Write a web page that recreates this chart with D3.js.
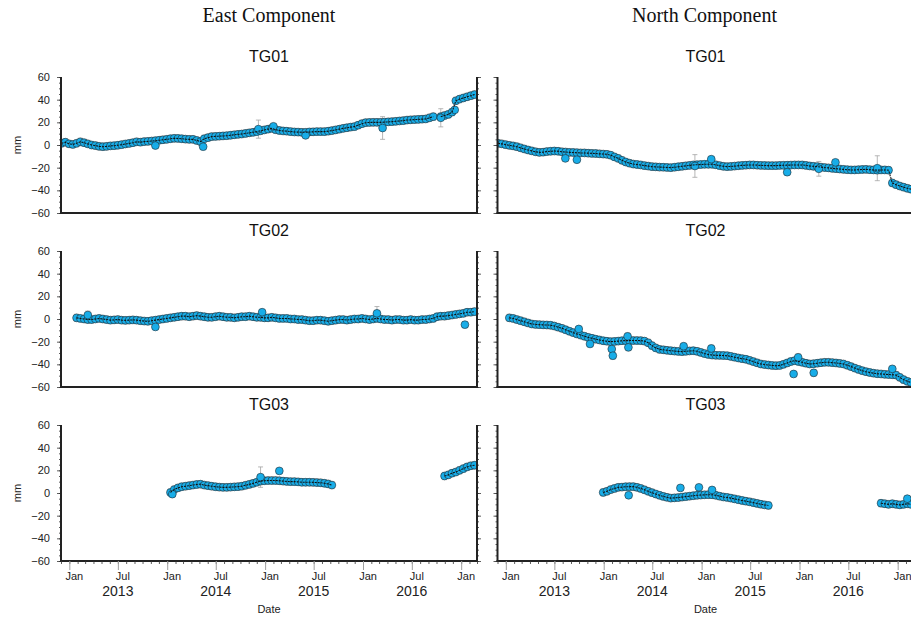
<!DOCTYPE html>
<html>
<head>
<meta charset="utf-8">
<script src="https://cdn.jsdelivr.net/npm/d3@7"></script>
<style>
body { margin: 0; background: #fff; }
svg { display: block; }
</style>
</head>
<body>
<script>
// GPS position time series, 14-day samples (mm); null = no data
var stepDays = 14;

var eastTG01 = [["2012-12-03", [
  1.5, 2.5, 1.0, 0.5, 1.5, 2.8, 2.0, 1.0, 0.0, -0.5,
  -1.2, -1.5, -1.2, -0.8, -0.6, -0.2, 0.3, 0.9, 1.4, 2.0,
  2.8, 2.5, 3.0, 3.2, 3.5, 3.8, 4.2, 4.6, 5.0, 5.5,
  5.9, 5.8, 5.5, 5.2, 5.0, 5.0, 4.0, 3.0, 5.5, 6.5,
  7.4, 7.6, 7.8, 8.0, 8.2, 8.6, 9.0, 9.4, 9.7, 10.2,
  10.7, 11.2, 11.8, 12.5, 13.3, 14.0, 14.7, 13.5, 12.8, 12.4,
  12.2, 11.8, 11.5, 11.4, 11.2, 11.2, 11.5, 11.6, 11.8, 11.8,
  11.8, 12.2, 12.7, 13.3, 14.0, 14.7, 15.2, 15.8, 16.2, 17.5,
  18.8, 19.7, 19.9, 20.0, 20.0, 20.0, 20.2, 20.4, 20.6, 20.9,
  21.2, 21.5, 22.0, 22.2, 22.4, 22.6, 22.8, 23.0, 24.0, 25.0,
  null, 25.0, 26.0, 27.0, 29.0, 39.0, 40.5, 41.5, 42.5, 43.5,
  44.5]]];

var northTG01 = [["2012-12-03", [
  1.5, 1.0, 0.3, -0.3, -0.8, -1.5, -2.5, -3.5, -4.4, -5.2,
  -6.0, -6.5, -6.3, -5.8, -5.5, -5.3, -5.5, -6.0, -6.2, -6.5,
  -6.6, -6.8, -7.0, -7.0, -7.2, -7.4, -7.5, -7.8, -8.0, -8.2,
  -9.0, -10.5, -11.8, -13.5, -15.0, -16.0, -16.8, -17.2, -17.6, -18.2,
  -18.6, -19.1, -19.3, -19.5, -19.6, -19.8, -20.0, -19.6, -19.2, -18.8,
  -18.4, -18.0, -17.6, -17.4, -17.2, -17.0, -17.0, -17.0, -17.5, -18.2,
  -18.8, -19.1, -18.9, -18.6, -18.3, -18.0, -17.8, -17.6, -17.6, -17.8,
  -18.0, -18.1, -18.2, -18.2, -18.2, -18.0, -17.9, -17.8, -17.7, -17.6,
  -17.6, -17.6, -18.0, -18.5, -18.8, -19.1, -19.5, -19.9, -20.2, -20.6,
  -20.9, -21.2, -21.5, -21.8, -22.0, -22.0, -21.8, -21.6, -21.5, -21.8,
  -22.0, -22.2, -22.0, -22.0, -22.2, -33.5, -35.0, -36.2, -37.2, -38.2,
  -39.0]]];

var eastTG02 = [["2013-01-28", [
  1.0, 0.5, 0.0, -0.5, -0.5, 0.0,
  0.5, 0.0, -0.5, -1.0, -0.8, -0.5, -1.0, -1.2, -1.0, -0.8,
  -1.0, -1.5, -1.8, -2.0, -1.5, -1.0, -0.5, 0.0, 0.5, 1.0,
  1.5, 2.0, 2.5, 2.5, 2.0, 2.5, 3.0, 2.5, 2.0, 1.5,
  1.5, 2.0, 2.5, 2.0, 1.5, 1.5, 1.0, 1.5, 2.0, 2.0,
  2.5, 2.0, 1.5, 1.5, 1.0, 1.0, 1.5, 1.0, 0.5, 0.5,
  0.5, 0.0, 0.0, -0.5, -0.5, -1.0, -1.5, -1.5, -1.0, -1.0,
  -1.5, -2.0, -1.5, -1.0, -0.5, -0.5, -1.0, -0.5, 0.0, 0.0,
  0.5, 0.0, -0.5, 0.0, 0.5, 0.0, -0.5, -0.5, -1.0, -0.5,
  -0.5, -1.0, -1.0, -0.5, -1.0, -1.0, -0.5, -0.5, 0.0, 0.5,
  2.0, 2.5, 2.5, 3.0, 3.5, 4.0, 4.5, 5.0, 6.0, 6.0,
  6.5]]];

var northTG02 = [["2013-01-14", [
  1.0, 0.5, -0.5, -1.5, -2.5, -3.5, -4.4,
  -4.8, -5.0, -5.2, -5.3, -5.5, -6.2, -7.2, -8.2, -9.5, -10.8,
  -12.0, -13.2, -14.2, -15.2, -16.2, -17.0, -17.8, -18.5, -19.2, -19.6,
  -20.0, -19.8, -19.5, -19.2, -19.1, -19.0, -19.0, -19.0, -19.1, -19.5,
  -21.0, -23.5, -25.5, -26.8, -27.2, -27.6, -28.0, -28.3, -28.6, -28.8,
  -28.5, -28.2, -28.0, -28.5, -29.5, -30.5, -31.3, -31.8, -32.0, -32.1,
  -32.2, -32.4, -33.0, -33.7, -34.4, -35.0, -35.5, -36.5, -37.6, -38.7,
  -39.7, -40.2, -40.6, -41.0, -41.2, -41.0, -40.0, -38.8, -37.5, -36.8,
  -37.5, -38.2, -39.0, -39.7, -39.5, -39.0, -38.6, -38.2, -38.2, -38.5,
  -38.8, -39.2, -39.7, -40.8, -42.0, -43.3, -44.5, -45.6, -46.5, -47.2,
  -47.8, -48.3, -48.5, -48.8, -49.0, -49.2, -49.5, -51.5, -53.5, -55.0,
  -56.0]]];

var eastTG03 = [
  ["2014-01-13", [
    0.5, 3.0, 4.5, 5.5, 6.0, 6.5, 7.0, 7.5, 7.8, 7.0,
    6.5, 6.0, 5.5, 5.2, 5.0, 5.0, 5.2, 5.4, 5.6, 6.0,
    6.8, 7.6, 8.5, 9.5, 10.5, 10.8, 11.0, 11.0, 11.0, 10.8,
    10.5, 10.2, 10.0, 10.0, 9.8, 9.5, 9.5, 9.5, 9.4, 9.2,
    9.0, 8.6, 8.0, 7.0]],
  ["2016-10-31", [15.0, 16.0, 17.5, 18.5, 20.0, 21.5, 23.0, 24.0, 24.5]]
];

var northTG03 = [
  ["2013-12-30", [
    0.5, 1.5, 3.0, 4.0, 5.0, 5.2, 5.5, 5.6, 5.6, 5.0,
    4.0, 2.8, 1.5, 0.3, -0.9, -2.0, -3.0, -3.8, -4.5, -4.3,
    -4.0, -3.6, -3.2, -2.8, -2.4, -2.0, -1.8, -1.6, -1.5, -1.6,
    -2.0, -2.8, -3.5, -3.9, -4.5, -5.2, -5.9, -6.6, -7.2, -7.8,
    -8.5, -9.2, -9.9, -10.5, -11.0]],
  ["2016-10-31", [-9.0, -9.5, -10.0, -9.5, -10.0, -10.5, -10.0, -9.5, -10.0]]
];

// typical 1-sigma (mm) per series
var sigmaEast = [3.2, 3.2, 3.2];
var sigmaNorth = [3.2, 3.2, 3.2];

// isolated points with their own error bars: [date, value, error]
var eastTG01Odd = [["2013-11-18", -0.5, 2], ["2014-05-15", -1.5, 2], ["2014-12-07", 14, 8],
  ["2015-02-01", 16.5, 2], ["2015-06-01", 8.5, 2], ["2016-03-14", 15, 10],
  ["2016-10-17", 24, 8], ["2016-12-08", 31, 2]];
var northTG01Odd = [["2013-08-11", -11.8, 2], ["2013-09-23", -13, 2], ["2014-12-07", -18.5, 10],
  ["2015-02-06", -12.5, 2], ["2015-11-16", -24, 2], ["2016-03-13", -21, 6.5],
  ["2016-05-14", -15.3, 2], ["2016-10-17", -20.5, 11]];
var eastTG02Odd = [["2013-03-11", 3.5, 3.5], ["2013-11-18", -7, 2], ["2014-12-21", 6, 2],
  ["2016-02-22", 5, 6], ["2017-01-15", -5, 2.5]];
var northTG02Odd = [["2013-09-30", -8.8, 2], ["2013-11-11", -22, 2], ["2014-01-31", -26.5, 2.5],
  ["2014-02-04", -32.4, 3], ["2014-03-31", -15.3, 3], ["2014-04-03", -25, 3],
  ["2014-10-26", -24, 2.5], ["2015-02-06", -26, 3], ["2015-12-10", -48.5, 2],
  ["2015-12-27", -33.8, 3], ["2016-02-23", -47.5, 3], ["2016-12-12", -44, 2.5]];
var eastTG03Odd = [["2014-01-20", -1, 2], ["2014-12-15", 14, 9], ["2015-02-23", 19.5, 2]];
var northTG03Odd = [["2014-04-04", -2, 2], ["2014-10-14", 4.5, 2], ["2014-12-22", 5, 2],
  ["2015-02-09", 2.7, 2], ["2017-02-06", -5, 2]];

var stations = ["TG01", "TG02", "TG03"];
var components = ["East Component", "North Component"];
var yTicks = [-60, -40, -20, 0, 20, 40, 60];
var yearLabels = [2013, 2014, 2015, 2016];
var timeStart = "2012-12-01", timeEnd = "2017-03-01";

var eastSeries = [eastTG01, eastTG02, eastTG03];
var northSeries = [northTG01, northTG02, northTG03];
var eastOdd = [eastTG01Odd, eastTG02Odd, eastTG03Odd];
var northOdd = [northTG01Odd, northTG02Odd, northTG03Odd];

var W = 911, H = 618;
var colX = [61, 497.5], panelW = 416;
var rowY = [77, 251, 425], panelH = 136;
var blue = "#18ade8";
var sans = "'Liberation Sans', Arial, Helvetica, sans-serif";
var parse = d3.timeParse("%Y-%m-%d");

var svg = d3.select("body").append("svg")
  .attr("width", W).attr("height", H)
  .style("font-family", sans);

function toPoints(series, sig) {
  var pts = [];
  series.forEach(function(seg) {
    var t0 = parse(seg[0]);
    seg[1].forEach(function(v, i) {
      pts.push({date: d3.timeDay.offset(t0, i * stepDays), v: v, e: sig});
    });
  });
  return pts;
}

// column titles
components.forEach(function(c, ci) {
  svg.append("text")
    .attr("x", colX[ci] + panelW / 2 + (ci == 0 ? 0 : -1))
    .attr("y", 22)
    .attr("text-anchor", "middle")
    .style("font-family", "'Liberation Serif', 'Times New Roman', serif")
    .style("font-size", "20px")
    .attr("fill", "#111")
    .text(c);
});

for (var ri = 0; ri < 3; ri++) {
  for (var ci = 0; ci < 2; ci++) {
    drawPanel(ri, ci);
  }
}

function drawPanel(ri, ci) {
  var left = colX[ci], top = rowY[ri];
  var x = d3.scaleTime().domain([parse(timeStart), parse(timeEnd)]).range([left, left + panelW]);
  var y = d3.scaleLinear().domain([-60, 60]).range([top + panelH, top]);

  var series = ci == 0 ? eastSeries[ri] : northSeries[ri];
  var sig = ci == 0 ? sigmaEast[ri] : sigmaNorth[ri];
  var odd = (ci == 0 ? eastOdd[ri] : northOdd[ri]).map(function(d) {
    return {date: parse(d[0]), v: d[1], e: d[2]};
  });
  var pts = toPoints(series, sig).filter(function(d) { return d.v !== null; });
  var all = pts.concat(odd);

  var clipId = "clip" + ri + ci;
  svg.append("clipPath").attr("id", clipId)
    .append("rect").attr("x", left).attr("y", top - 2).attr("width", panelW).attr("height", panelH + 2);

  var g = svg.append("g").attr("clip-path", "url(#" + clipId + ")");

  // error bars
  var eb = g.append("g").attr("stroke", "#a5a5a5").attr("stroke-width", 0.8).attr("fill", "none");
  eb.selectAll("path").data(all).enter().append("path")
    .attr("d", function(d) {
      var cx = x(d.date), y0 = y(d.v - d.e), y1 = y(d.v + d.e);
      return "M" + cx + "," + y0 + "V" + y1 + "M" + (cx - 2.5) + "," + y0 + "H" + (cx + 2.5) +
             "M" + (cx - 2.5) + "," + y1 + "H" + (cx + 2.5);
    });

  // points
  g.append("g").selectAll("circle").data(all).enter().append("circle")
    .attr("cx", function(d) { return x(d.date); })
    .attr("cy", function(d) { return y(d.v); })
    .attr("r", 3.9)
    .attr("fill", blue)
    .attr("stroke", "#202a30")
    .attr("stroke-width", 0.6);

  // connecting line per segment
  var line = d3.line()
    .defined(function(d) { return d.v !== null; })
    .x(function(d) { return x(d.date); })
    .y(function(d) { return y(d.v); });
  series.forEach(function(seg) {
    var segPts = toPoints([seg], sig);
    g.append("path").datum(segPts)
      .attr("d", line)
      .attr("fill", "none")
      .attr("stroke", "#111")
      .attr("stroke-width", 1.1)
      .attr("stroke-dasharray", "2,1");
  });

  // y axes: outer side (labels only on left column), inner side ticks
  var minor = d3.range(-60, 61, 5);
  var ax = svg.append("g");
  if (ci == 0) {
    ax.append("g").attr("transform", "translate(" + left + ",0)")
      .call(d3.axisLeft(y).tickValues(minor).tickSize(2).tickFormat(""));
    ax.append("g").attr("transform", "translate(" + left + ",0)")
      .call(d3.axisLeft(y).tickValues(yTicks).tickSize(4).tickPadding(7).tickFormat(d3.format("d")));
    ax.append("g").attr("transform", "translate(" + (left + panelW) + ",0)")
      .call(d3.axisRight(y).tickValues(minor).tickSize(2).tickFormat(""));
    ax.append("g").attr("transform", "translate(" + (left + panelW) + ",0)")
      .call(d3.axisRight(y).tickValues(yTicks).tickSize(4).tickFormat(""));
  } else {
    ax.append("g").attr("transform", "translate(" + left + ",0)")
      .call(d3.axisLeft(y).tickValues(minor).tickSize(2).tickFormat(""));
    ax.append("g").attr("transform", "translate(" + left + ",0)")
      .call(d3.axisLeft(y).tickValues(yTicks).tickSize(4).tickFormat(""));
  }
  ax.selectAll(".domain").remove();
  ax.selectAll("line").attr("stroke", "#333").attr("stroke-width", 0.8);
  ax.selectAll("text").style("font-family", sans).style("font-size", "11px").attr("fill", "#222");

  // frame lines
  var frame = svg.append("g").attr("stroke", "#222").attr("stroke-width", 2).attr("fill", "none");
  frame.append("line").attr("x1", left).attr("x2", left).attr("y1", top).attr("y2", top + panelH);
  frame.append("line").attr("x1", left - 1).attr("x2", left + panelW + 1).attr("y1", top + panelH).attr("y2", top + panelH);
  if (ci == 0) {
    frame.append("line").attr("x1", left + panelW).attr("x2", left + panelW).attr("y1", top).attr("y2", top + panelH);
  }

  // station title
  svg.append("text")
    .attr("x", left + panelW / 2)
    .attr("y", top - 15)
    .attr("text-anchor", "middle")
    .style("font-size", "16px")
    .attr("fill", "#111")
    .text(stations[ri]);

  if (ci == 0) {
    svg.append("text")
      .attr("transform", "translate(21," + (top + panelH / 2) + ") rotate(-90)")
      .attr("text-anchor", "middle")
      .style("font-size", "11px")
      .attr("fill", "#222")
      .text("mm");
  }

  // time axis on the bottom row
  if (ri == 2) {
    var base = top + panelH;
    var bx = svg.append("g");
    bx.append("g").attr("transform", "translate(0," + base + ")")
      .call(d3.axisBottom(x).ticks(d3.timeMonth.every(1)).tickSize(3).tickFormat(""));
    bx.selectAll("line").attr("stroke", "#333").attr("stroke-width", 0.8);
    var major = x.ticks(d3.timeMonth.every(6));
    var mg = svg.append("g").attr("transform", "translate(0," + base + ")")
      .call(d3.axisBottom(x).tickValues(major).tickSize(9).tickFormat(""));
    mg.selectAll("line").attr("stroke", "#a0a0a0").attr("stroke-width", 1);
    bx.selectAll(".domain").remove();
    mg.selectAll(".domain").remove();

    svg.append("g").selectAll("text").data(major).enter().append("text")
      .attr("x", function(d) { return x(d) + 5; })
      .attr("y", base + 19)
      .attr("text-anchor", "middle")
      .style("font-size", "11px")
      .attr("fill", "#222")
      .text(d3.timeFormat("%b"));

    svg.append("g").selectAll("text").data(yearLabels).enter().append("text")
      .attr("x", function(d) { return x(new Date(d, 6, 1)); })
      .attr("y", base + 35)
      .attr("text-anchor", "middle")
      .style("font-size", "14px")
      .attr("fill", "#222")
      .text(function(d) { return d; });

    svg.append("text")
      .attr("x", left + panelW / 2)
      .attr("y", base + 52)
      .attr("text-anchor", "middle")
      .style("font-size", "11px")
      .attr("fill", "#222")
      .text("Date");
  }
}
</script>
</body>
</html>
